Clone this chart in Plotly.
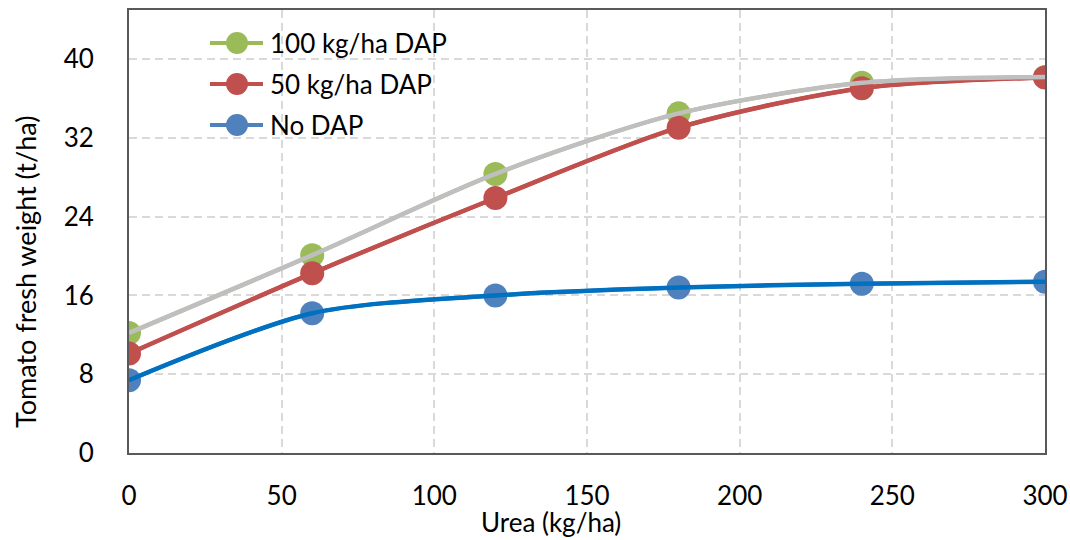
import plotly.graph_objects as go

urea = [0, 60, 120, 180, 240, 300]
dap100 = [12.2, 20.1, 28.35, 34.5, 37.6, 38.2]
dap50 = [10.1, 18.25, 25.9, 33.05, 37.05, 38.15]
nodap = [7.4, 14.2, 16.0, 16.8, 17.2, 17.4]

names = ["100 kg/ha DAP", "50 kg/ha DAP", "No DAP"]
series = [dap100, dap50, nodap]
marker_colors = ["#9BBB59", "#C0504D", "#4F81BD"]
line_colors = ["#BFBFBF", "#C0504D", "#0070C0"]

FONT = "Lato"
W, H = 1070, 540
L, R, T, B = 129, 25, 10, 87
PW, PH = W - L - R, H - T - B

def px(x):
    return (x - L) / PW

def py(y):
    return (H - B - y) / PH

fig = go.Figure()

# marker traces
for i, (nm, ys, mc) in enumerate(zip(names, series, marker_colors)):
    fig.add_trace(go.Scatter(
        x=urea, y=ys, name=nm, mode="lines+markers",
        line=dict(color=mc, width=4, shape="spline", smoothing=0.8),
        marker=dict(color=mc, size=24),
        showlegend=False,
    ))

# smooth lines drawn on top: blue, red, gray
for i in [2, 1, 0]:
    fig.add_trace(go.Scatter(
        x=urea, y=series[i], mode="lines", showlegend=False,
        line=dict(color=line_colors[i], width=4.5, shape="spline", smoothing=0.8),
        hoverinfo="skip",
    ))

axis_common = dict(
    showline=True, linecolor="#595959", linewidth=2, mirror=True,
    showgrid=True, gridcolor="#D9D9D9", gridwidth=1.5, griddash="8px,5px",
    zeroline=False, ticks="", automargin=False,
    tickfont=dict(family=FONT, size=26, color="#000000"),
)

fig.update_xaxes(range=[0, 300], tickvals=[0, 50, 100, 150, 200, 250, 300],
                 ticklabelstandoff=19, **axis_common)
fig.update_yaxes(range=[0, 45], tickvals=[0, 8, 16, 24, 32, 40],
                 ticklabelstandoff=28, **axis_common)

# manual legend (shapes + text)
shapes = []
annotations = []
legend_y = [43, 84, 125]
for nm, mc, ly in zip(names, marker_colors, legend_y):
    shapes.append(dict(type="line", xref="paper", yref="paper",
                       x0=px(210), x1=px(263), y0=py(ly), y1=py(ly),
                       line=dict(color=mc, width=4)))
    shapes.append(dict(type="circle", xref="paper", yref="paper",
                       xsizemode="pixel", ysizemode="pixel",
                       xanchor=px(237), yanchor=py(ly),
                       x0=-11, x1=11, y0=-11, y1=11,
                       fillcolor=mc, line=dict(width=0)))
    annotations.append(dict(text=nm, xref="paper", yref="paper",
                            x=px(268), y=py(ly), xanchor="left", yanchor="middle",
                            showarrow=False,
                            font=dict(family=FONT, size=26, color="#000000")))

annotations += [
    dict(text="Urea (kg/ha)", xref="paper", yref="paper",
         x=px(551), y=py(522), xanchor="center", yanchor="middle",
         showarrow=False, font=dict(family=FONT, size=26, color="#000000")),
    dict(text="Tomato fresh weight (t/ha)", xref="paper", yref="paper",
         x=px(25), y=py(272), xanchor="center", yanchor="middle",
         textangle=-90, showarrow=False, font=dict(family=FONT, size=27, color="#000000")),
]

fig.update_layout(
    width=W, height=H,
    margin=dict(l=L, r=R, t=T, b=B),
    plot_bgcolor="white", paper_bgcolor="white",
    font=dict(family=FONT, color="#000000"),
    showlegend=False,
    shapes=shapes,
    annotations=annotations,
)

fig.write_html("out.html")
